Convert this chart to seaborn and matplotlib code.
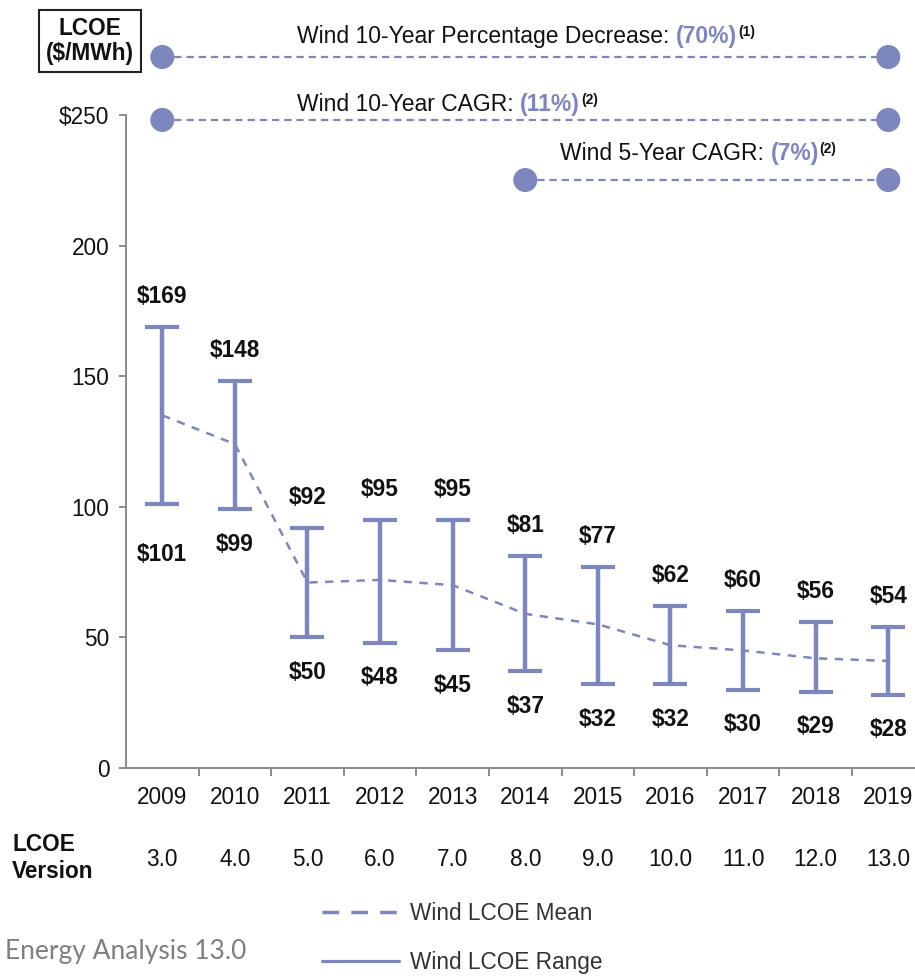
import matplotlib
matplotlib.use("Agg")
import matplotlib.pyplot as plt
import seaborn as sns
import pandas as pd
from matplotlib.lines import Line2D

# ---------------- data ----------------
years = ["2009", "2010", "2011", "2012", "2013", "2014", "2015", "2016", "2017", "2018", "2019"]
versions = ["3.0", "4.0", "5.0", "6.0", "7.0", "8.0", "9.0", "10.0", "11.0", "12.0", "13.0"]
mean_lcoe = [135, 124, 71, 72, 70, 59, 55, 47, 45, 42, 41]
low_lcoe = [101, 99, 50, 48, 45, 37, 32, 32, 30, 29, 28]
high_lcoe = [169, 148, 92, 95, 95, 81, 77, 62, 60, 56, 54]

ann_main = ["Wind 10-Year Percentage Decrease: ", "Wind 10-Year CAGR: ", "Wind 5-Year CAGR: "]
ann_value = ["(70%)", "(11%)", "(7%)"]
ann_note = ["(1)", "(2)", "(2)"]
ann_start = [0, 0, 5]      # category index of left dot
ann_end = [10, 10, 10]     # category index of right dot

BLUE = "#7d86bd"
GRAY = "#8c8c8c"
TXT = "#111111"

sns.set_theme(style="white")
plt.rcParams["font.family"] = ["Liberation Sans", "DejaVu Sans"]

W, H = 915, 977
fig = plt.figure(figsize=(W / 100, H / 100), dpi=100)
ax = fig.add_axes([126 / W, 209 / H, 789 / W, 757.5 / H])

x = list(range(len(years)))
df = pd.DataFrame({"x": x, "mean": mean_lcoe, "low": low_lcoe, "high": high_lcoe})

# mean dashed line
sns.lineplot(data=df, x="x", y="mean", ax=ax, color=BLUE, linewidth=1.8,
             linestyle=(0, (3.3, 3.0)), zorder=2)

# ranges as error bars
mid = (df["low"] + df["high"]) / 2
half = (df["high"] - df["low"]) / 2
ax.errorbar(df["x"], mid, yerr=half, fmt="none", ecolor=BLUE, elinewidth=3.2,
            capsize=12.5, capthick=3, zorder=3)

# value labels
for i in x:
    ax.annotate(f"${high_lcoe[i]}", (i, high_lcoe[i]), xytext=(0, 22), textcoords="offset points",
                ha="center", va="center", fontsize=16.3, fontweight="bold", color=TXT)
    off = -36 if i == 0 else -25
    ax.annotate(f"${low_lcoe[i]}", (i, low_lcoe[i]), xytext=(0, off), textcoords="offset points",
                ha="center", va="center", fontsize=16.3, fontweight="bold", color=TXT)

# axes styling
ax.set_xlim(-0.5, 10.368)
ax.set_ylim(0, 290)
ax.grid(False)
for s in ["top", "right"]:
    ax.spines[s].set_visible(False)
ax.spines["left"].set_bounds(0, 250)
for s in ["left", "bottom"]:
    ax.spines[s].set_color(GRAY)
    ax.spines[s].set_linewidth(1.4)

ax.set_yticks([0, 50, 100, 150, 200, 250])
ax.set_yticklabels(["0", "50", "100", "150", "200", "$250"])
ax.tick_params(axis="y", left=True, length=5, width=1.4, color=GRAY, pad=7,
               labelsize=16.3, labelcolor=TXT)
ax.set_xticks(x)
ax.set_xticklabels(years)
ax.set_xticks([i + 0.5 for i in x[:-1]], minor=True)
ax.tick_params(axis="x", which="major", bottom=True, length=0, pad=13, labelsize=16.3, labelcolor=TXT)
ax.tick_params(axis="x", which="minor", bottom=True, length=6, width=1.4, color=GRAY)

# version row
for i in x:
    ax.text(i, -35.2, versions[i], ha="center", va="center", fontsize=16.3, color=TXT, clip_on=False)
fig.text(12 / W, 1 - 858 / H, "LCOE\nVersion", ha="left", va="center", fontsize=16.3,
         fontweight="bold", color=TXT)

# top annotation rows
row_y = [272.2, 248.1, 225.1]
text_y = [277.6, 251.6, 232.8]
text_x = [1.86, 1.86, 5.48]
for r in range(3):
    ax.plot([ann_start[r], ann_end[r]], [row_y[r], row_y[r]], color=BLUE, linewidth=1.6,
            linestyle=(0, (3.3, 2.2)), clip_on=False, zorder=2)
    pts = pd.DataFrame({"x": [ann_start[r], ann_end[r]], "y": [row_y[r], row_y[r]]})
    sns.scatterplot(data=pts, x="x", y="y", ax=ax, s=300, color=BLUE, edgecolor="none",
                    clip_on=False, zorder=4)
    t1 = ax.text(text_x[r], text_y[r], ann_main[r], ha="left", va="baseline", fontsize=16.5, color=TXT)
    t2 = ax.annotate(ann_value[r], xy=(1, 0), xycoords=t1, ha="left", va="bottom",
                     fontsize=16.5, fontweight="bold", color=BLUE)
    ax.annotate(ann_note[r], xy=(1, 1), xycoords=t2, xytext=(0.5, 0), textcoords="offset points",
                ha="left", va="top", fontsize=10, fontweight="bold", color=TXT)
ax.set_xlabel("")
ax.set_ylabel("")

# unit box
fig.text(90 / W, 1 - 41 / H, "LCOE\n($/MWh)", ha="center", va="center", fontsize=16.3,
         fontweight="bold", color=TXT, linespacing=1.1,
         bbox=dict(boxstyle="square,pad=0.33", facecolor="white", edgecolor="#222222", linewidth=1.5))

# footer text
fig.text(5 / W, 1 - 951 / H, "Energy Analysis 13.0", ha="left", va="center", fontsize=19,
         color="#7f7f7f", family=["Lato", "DejaVu Sans"])

# legend
handles = [Line2D([0], [0], color=BLUE, linewidth=2.5, linestyle=(0, (4.8, 3.5))),
           Line2D([0], [0], color=BLUE, linewidth=2.3)]
fig.legend(handles, ["Wind LCOE Mean", "Wind LCOE Range"], loc="upper left",
           bbox_to_anchor=(322 / W, 1 - 902 / H), frameon=False, fontsize=16.3,
           handlelength=3.4, handletextpad=0.5, borderpad=0, borderaxespad=0,
           labelspacing=1.15, labelcolor="#333333")

fig.savefig("out.png", dpi=100)
